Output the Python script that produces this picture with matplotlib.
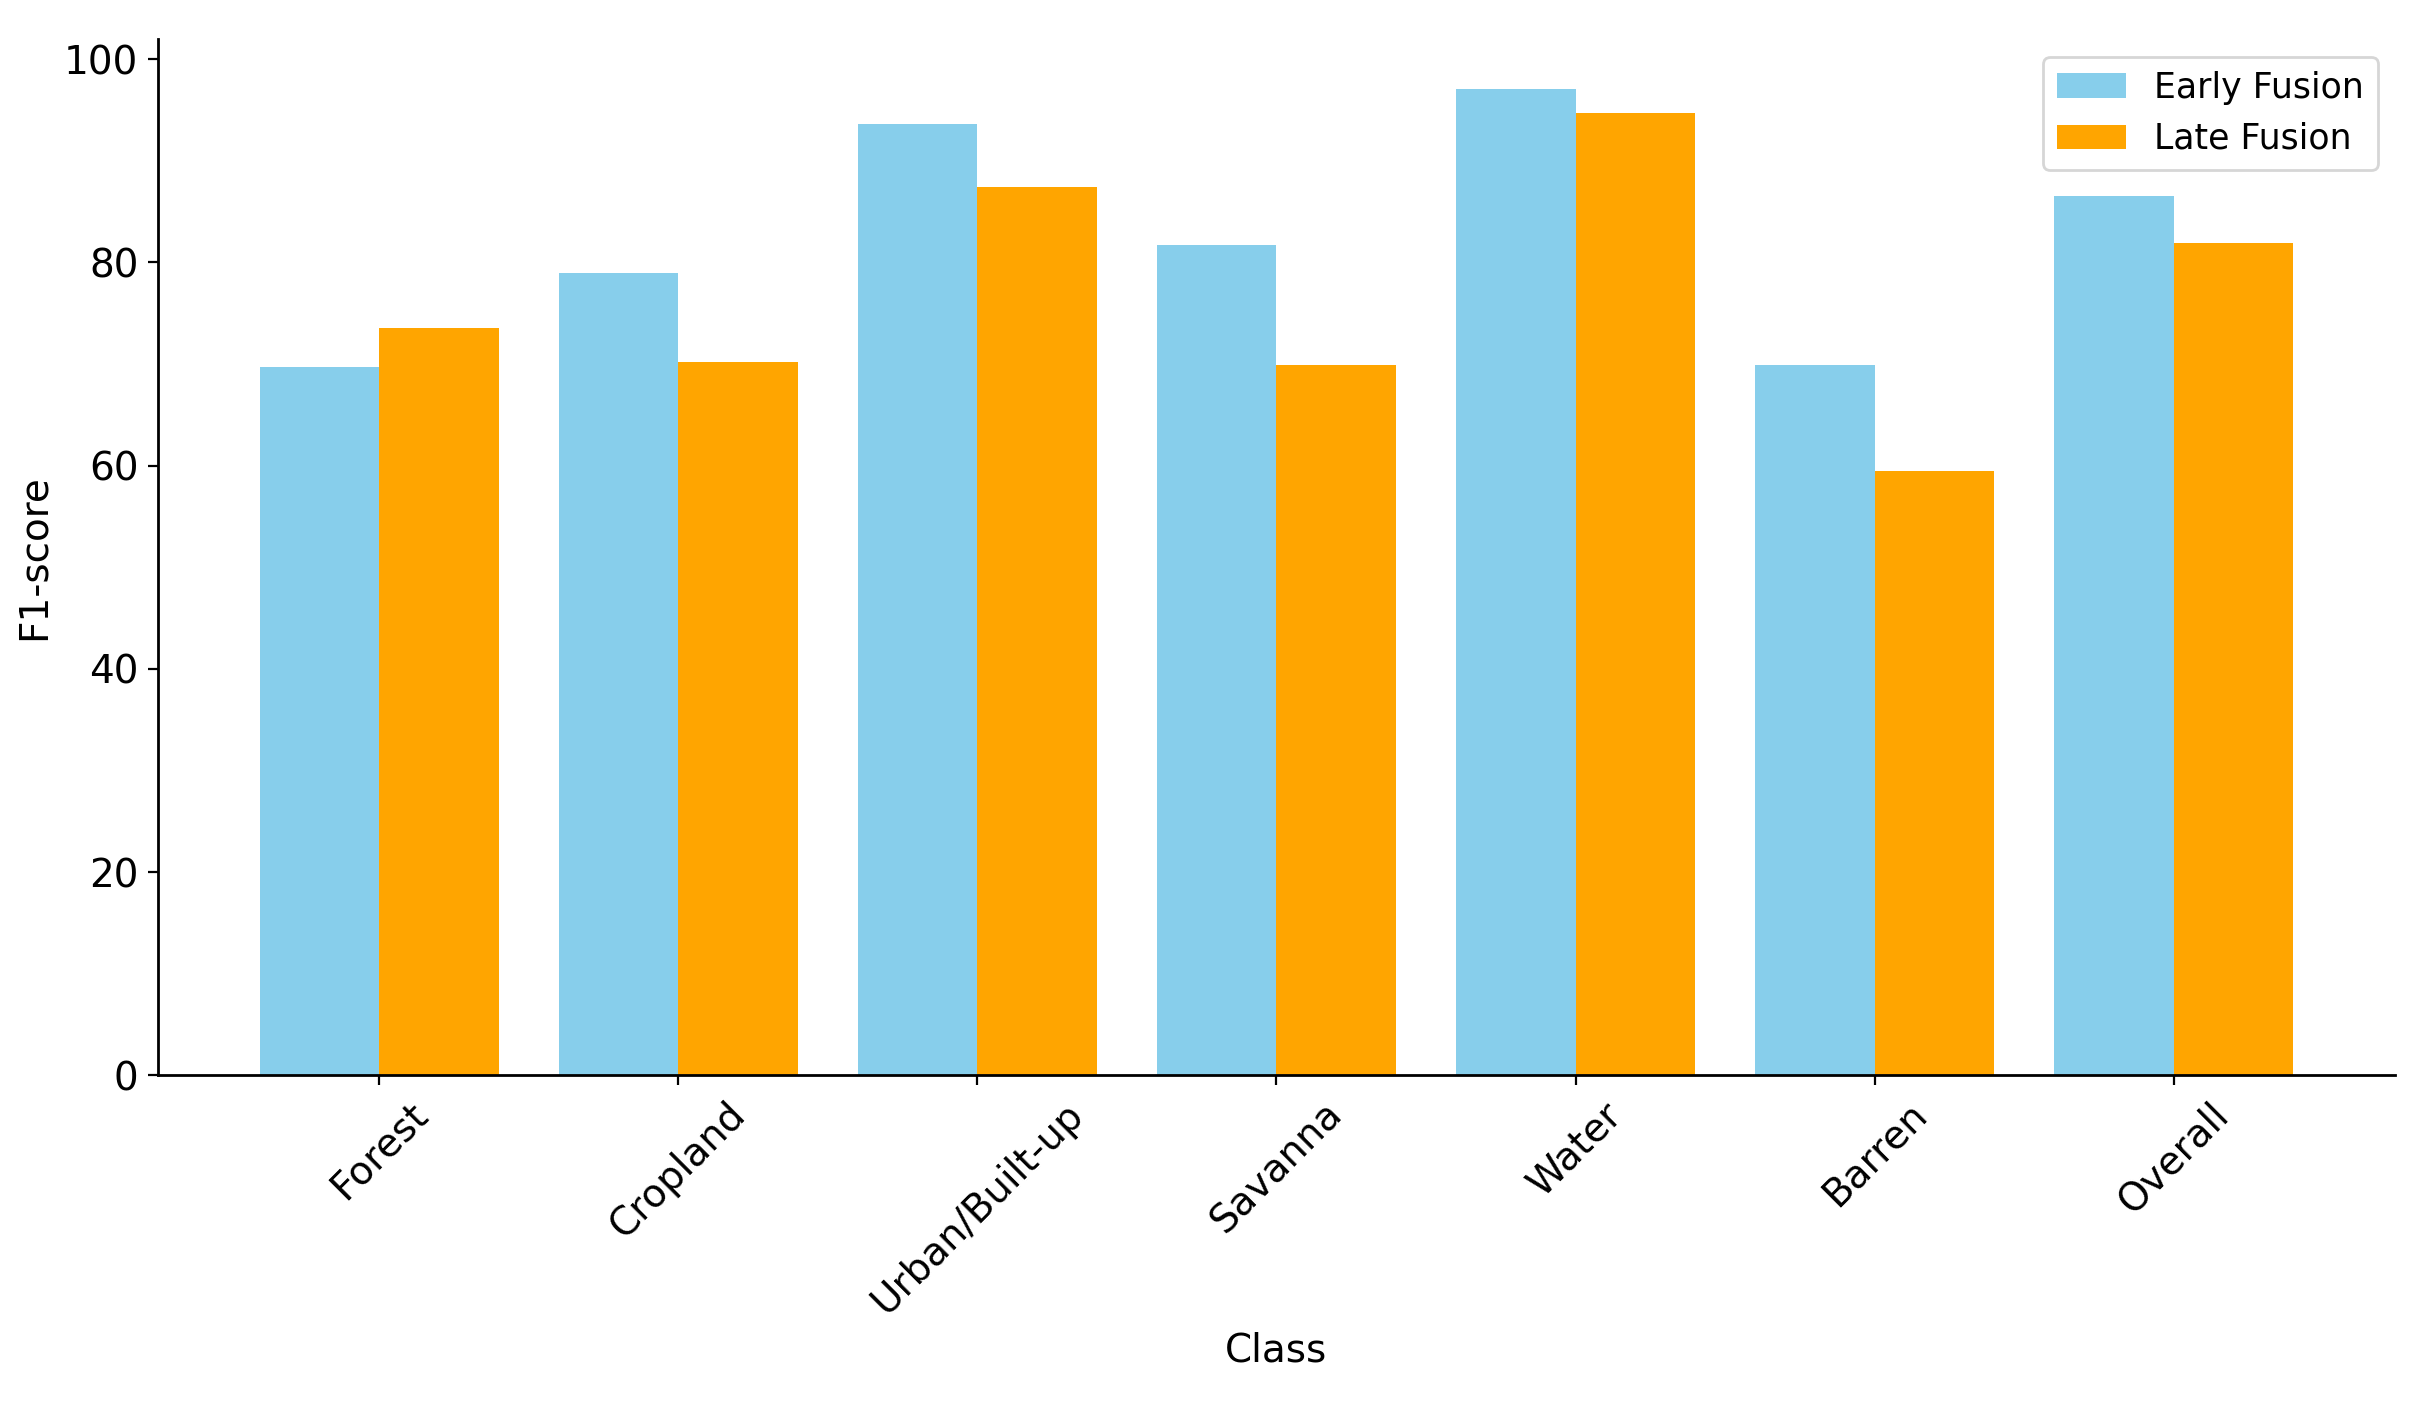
import numpy as np
import matplotlib
matplotlib.use('Agg')
import matplotlib.pyplot as plt

classes = ['Forest', 'Cropland', 'Urban/Built-up', 'Savanna', 'Water', 'Barren', 'Overall']
early_fusion = [69.7, 79.0, 93.6, 81.7, 97.1, 69.9, 86.5]
late_fusion = [73.5, 70.2, 87.4, 69.9, 94.7, 59.5, 81.9]

plt.rcParams['font.size'] = 14

fig = plt.figure(figsize=(2429 / 200, 1402 / 200), dpi=200)
ax = fig.add_axes([0.065, 0.233, 0.921, 0.739])

x = np.arange(len(classes))
w = 0.4
ax.bar(x - w / 2, early_fusion, w, color='skyblue', label='Early Fusion')
ax.bar(x + w / 2, late_fusion, w, color='orange', label='Late Fusion')

ax.set_xticks(x)
ax.set_xticklabels(classes, rotation=45)
ax.set_xlabel('Class')
ax.set_ylabel('F1-score')
ax.spines['top'].set_visible(False)
ax.spines['right'].set_visible(False)
for s in ('left', 'bottom'):
    ax.spines[s].set_linewidth(1.0)
ax.legend(loc='upper right', fontsize=12.5)

fig.savefig('out.png', dpi=200)
